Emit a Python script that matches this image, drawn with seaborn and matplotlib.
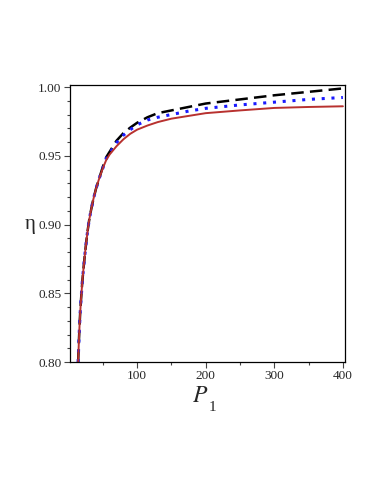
"""
Efficiency eta versus P_1 for three cases (Maple-style plot).
"""

import matplotlib
matplotlib.use("Agg")
import matplotlib.pyplot as plt
from matplotlib.ticker import MultipleLocator
import pandas as pd
import seaborn as sns

# Data
p1 = [14, 15, 16, 17, 18, 19, 20, 22, 24, 26, 28, 30, 33, 36, 40, 45, 50, 55,
      60, 70, 80, 90, 100, 115, 130, 150, 175, 200, 250, 300, 350, 400]
eta_red = [0.800, 0.814, 0.826, 0.836, 0.844, 0.851, 0.858, 0.869, 0.879,
           0.888, 0.896, 0.903, 0.911, 0.918, 0.926, 0.934, 0.941, 0.947,
           0.951, 0.957, 0.962, 0.966, 0.969, 0.972, 0.9745, 0.977, 0.979,
           0.981, 0.983, 0.9848, 0.9855, 0.986]
eta_blue = [0.800, 0.814, 0.826, 0.836, 0.844, 0.851, 0.858, 0.869, 0.879,
            0.888, 0.896, 0.903, 0.911, 0.918, 0.926, 0.934, 0.941, 0.948,
            0.952, 0.9595, 0.965, 0.969, 0.9725, 0.976, 0.978, 0.980, 0.9825,
            0.9845, 0.987, 0.989, 0.991, 0.9924]
eta_black = [0.800, 0.814, 0.826, 0.836, 0.844, 0.851, 0.858, 0.869, 0.879,
             0.888, 0.896, 0.903, 0.911, 0.918, 0.926, 0.934, 0.942, 0.949,
             0.953, 0.961, 0.9665, 0.9705, 0.974, 0.978, 0.981, 0.983, 0.9855,
             0.988, 0.991, 0.994, 0.9965, 0.999]

sns.set_style("white")
plt.rcParams['font.family'] = ['Liberation Serif', 'DejaVu Serif']
plt.rcParams['mathtext.fontset'] = 'stix'

fig = plt.figure(figsize=(3.82, 4.94), dpi=100)
ax = fig.add_axes([0.183, 0.267, 0.72, 0.561])

df = pd.DataFrame({'P1': p1, 'red': eta_red, 'blue': eta_blue, 'black': eta_black})

sns.lineplot(data=df, x='P1', y='black', ax=ax, color='black', lw=1.8,
             linestyle=(0, (5, 2.5)))
sns.lineplot(data=df, x='P1', y='blue', ax=ax, color='#1a1aff', lw=2.2,
             linestyle=(0, (1, 2.2)))
sns.lineplot(data=df, x='P1', y='red', ax=ax, color='#b8312f', lw=1.4)

ax.set_xlim(2, 403)
ax.set_ylim(0.80, 1.0015)
ax.xaxis.set_major_locator(MultipleLocator(100))
ax.xaxis.set_minor_locator(MultipleLocator(50))
ax.yaxis.set_major_locator(MultipleLocator(0.05))
ax.yaxis.set_minor_locator(MultipleLocator(0.01))
ax.yaxis.set_major_formatter(plt.FormatStrFormatter('%.2f'))

ax.tick_params(axis='both', which='major', direction='out', length=4, width=0.8,
               labelsize=9.5, pad=2, color='#444444')
ax.tick_params(axis='both', which='minor', direction='out', length=2, width=0.8,
               color='#444444')
ax.tick_params(axis='x', which='both', bottom=True)
ax.tick_params(axis='y', which='both', left=True)

for side in ['top', 'right', 'left', 'bottom']:
    ax.spines[side].set_visible(True)
    ax.spines[side].set_color('black')
    ax.spines[side].set_linewidth(0.9)

ax.set_xlabel('')
ax.set_ylabel('')
fig.text(0.525, 0.198, r'$P$', fontsize=17, ha='center', va='center')
fig.text(0.555, 0.176, '1', fontsize=11, ha='center', va='center')
fig.text(0.080, 0.545, 'η', fontsize=15, ha='center', va='center')

fig.savefig('out.png', dpi=100)
plt.close(fig)
